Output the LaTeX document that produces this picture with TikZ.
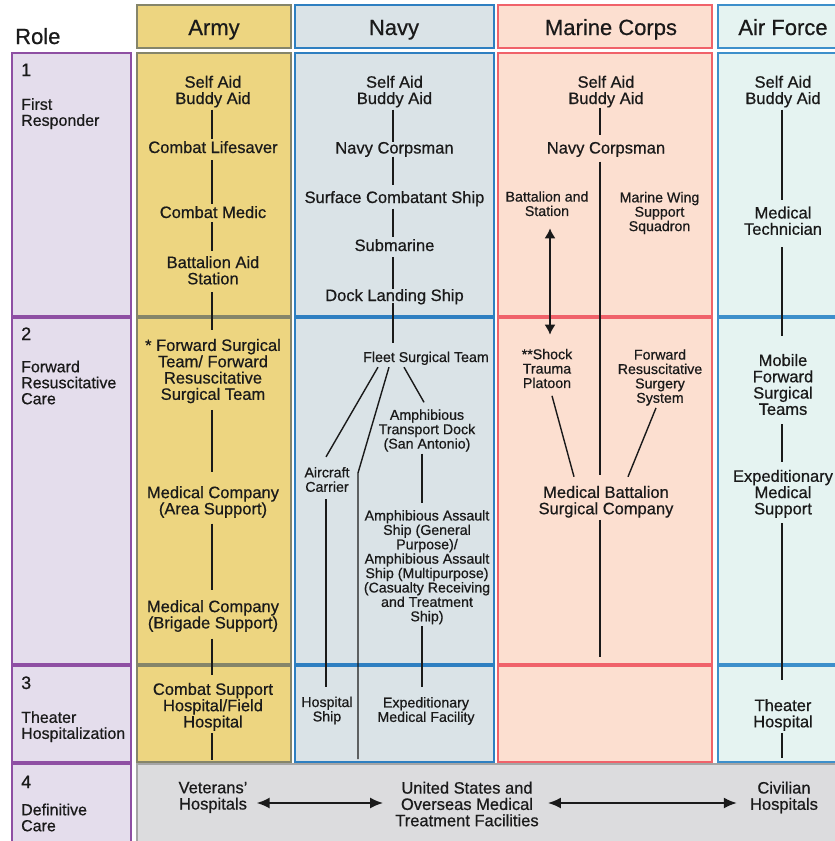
\documentclass[tikz,border=0pt]{standalone}
\usepackage{fontspec}
\setmainfont{Liberation Sans}[FakeBold=0.6]
\usetikzlibrary{arrows.meta}
\definecolor{rolefill}{HTML}{E4DDEC}
\definecolor{roledraw}{HTML}{8E4FA3}
\definecolor{armyfill}{HTML}{EDD580}
\definecolor{armydraw}{HTML}{85856A}
\definecolor{navyfill}{HTML}{DAE3E7}
\definecolor{navydraw}{HTML}{2E7FC1}
\definecolor{marfill}{HTML}{FCDFD0}
\definecolor{mardraw}{HTML}{F0626A}
\definecolor{affill}{HTML}{E5F3F1}
\definecolor{afdraw}{HTML}{3D8FCB}
\definecolor{deffill}{HTML}{DCDCDE}
\definecolor{defdraw}{HTML}{A5A5A5}
\definecolor{ink}{HTML}{1A1A1A}
\begin{document}
\begin{tikzpicture}[x=1pt,y=-1pt,
  txtbig/.style={font=\fontsize{16.5}{16.3}\selectfont, align=center, inner sep=2pt, text=ink},
  txtsmall/.style={font=\fontsize{14.2}{14.4}\selectfont, align=center, inner sep=2pt, text=ink},
  rlab/.style={font=\fontsize{16}{16}\selectfont, align=left, anchor=west, inner sep=0pt, text=ink},
  rnum/.style={font=\fontsize{18}{18}\selectfont, anchor=base west, inner sep=0pt, text=ink},
  hd/.style={font=\fontsize{22}{22}\selectfont, anchor=base, inner sep=0pt, text=ink},
  conn/.style={draw=ink, line width=1.4pt},
  arrA/.style={draw=ink, line width=2pt, {Latex[length=13pt,width=11pt]}-{Latex[length=13pt,width=11pt]}},
  arrB/.style={draw=ink, line width=1.5pt, {Latex[length=10pt,width=11pt]}-{Latex[length=10pt,width=11pt]}},
  cRole/.style={fill=rolefill, draw=roledraw, line width=1.3pt},
  cArmy/.style={fill=armyfill, draw=armydraw, line width=1.3pt},
  cNavy/.style={fill=navyfill, draw=navydraw, line width=1.3pt},
  cMar/.style={fill=marfill, draw=mardraw, line width=1.3pt},
  cAF/.style={fill=affill, draw=afdraw, line width=1.3pt},
  cDef/.style={fill=deffill, draw=defdraw, line width=1.6pt}
]
\useasboundingbox (0,0) rectangle (835,841);
\clip (0,0) rectangle (835,841);
\fill[white] (0,0) rectangle (835,841);

% ---- cells ----
\draw[cRole] (12,53) rectangle (131,316);
\draw[cRole] (12,318) rectangle (131,664);
\draw[cRole] (12,666) rectangle (131,762);
\draw[cRole] (12,764) rectangle (131,880);

\draw[cArmy] (137,5) rectangle (291,48);
\draw[cArmy] (137,53) rectangle (291,316);
\draw[cArmy] (137,318) rectangle (291,664);
\draw[cArmy] (137,666) rectangle (291,762);

\draw[cNavy] (295,5) rectangle (494,48);
\draw[cNavy] (295,53) rectangle (494,316);
\draw[cNavy] (295,318) rectangle (494,664);
\draw[cNavy] (295,666) rectangle (494,762);

\draw[cMar] (498,5) rectangle (712,48);
\draw[cMar] (498,53) rectangle (712,316);
\draw[cMar] (498,318) rectangle (712,664);
\draw[cMar] (498,666) rectangle (712,762);

\draw[cAF] (718,5) rectangle (880,48);
\draw[cAF] (718,53) rectangle (880,316);
\draw[cAF] (718,318) rectangle (880,664);
\draw[cAF] (718,666) rectangle (880,762);

\draw[cDef] (137,764) rectangle (880,880);

% ---- headers ----
\node[hd, anchor=base west] (role) at (15,44) {Role};
\node[hd] (hA) at (214,35) {Army};
\node[hd] (hN) at (394,35) {Navy};
\node[hd] (hM) at (611,35) {Marine Corps};
\node[hd] (hF) at (783,35) {Air Force};

% ---- role column ----
\node[rnum] (r1) at (21,76) {1};
\node[rnum] (r2) at (21,340) {2};
\node[rnum] (r3) at (21,689) {3};
\node[rnum] (r4) at (21,788) {4};
\node[rlab] (l1) at (21,113.7) {First\\Responder};
\node[rlab] (l2) at (21,382.5) {Forward\\Resuscitative\\Care};
\node[rlab] (l3) at (21,726.7) {Theater\\Hospitalization};
\node[rlab] (l4) at (21,817.5) {Definitive\\Care};

% ---- Army ----
\node[txtbig] (a1) at (213,91.6) {Self Aid\\Buddy Aid};
\node[txtbig, anchor=base] (a2) at (213,153) {Combat Lifesaver};
\node[txtbig, anchor=base] (a3) at (213,218) {Combat Medic};
\node[txtbig] (a4) at (213,270.3) {Battalion Aid\\Station};
\node[txtbig] (a5) at (213,371.1) {* Forward Surgical\\Team/ Forward\\Resuscitative\\Surgical Team};
\node[txtbig] (a6) at (213,502) {Medical Company\\(Area Support)};
\node[txtbig] (a7) at (213,616) {Medical Company\\(Brigade Support)};
\node[txtbig] (a8) at (213,706.9) {Combat Support\\Hospital/Field\\Hospital};
\coordinate (a9) at (212,760);

\draw[conn] ([xshift=-1pt]a1.south) -- ([xshift=-1pt]a2.north);
\draw[conn, shorten <=5pt] ([xshift=-1pt]a2.south) -- ([xshift=-1pt]a3.north);
\draw[conn, shorten <=2pt, shorten >=3pt] ([xshift=-1pt]a3.south) -- ([xshift=-1pt]a4.north);
\draw[conn, shorten <=5.4pt, shorten >=6.7pt] ([xshift=-1pt]a4.south) -- ([xshift=-1pt]a5.north);
\draw[conn, shorten <=4.5pt, shorten >=12pt] ([xshift=-1pt]a5.south) -- ([xshift=-1pt]a6.north);
\draw[conn, shorten <=3.5pt, shorten >=8.3pt] ([xshift=-1pt]a6.south) -- ([xshift=-1pt]a7.north);
\draw[conn, shorten <=4.5pt, shorten >=6pt] ([xshift=-1pt]a7.south) -- ([xshift=-1pt]a8.north);
\draw[conn] ([xshift=-1pt]a8.south) -- (a9);

% ---- Navy ----
\node[txtbig] (n1) at (394.5,91.6) {Self Aid\\Buddy Aid};
\node[txtbig, anchor=base] (n2) at (394.5,153.5) {Navy Corpsman};
\node[txtbig, anchor=base] (n3) at (394.5,203) {Surface Combatant Ship};
\node[txtbig, anchor=base] (n4) at (394.5,251) {Submarine};
\node[txtbig, anchor=base] (n5) at (394.5,301) {Dock Landing Ship};
\node[txtsmall, anchor=base] (n6) at (426,362) {Fleet Surgical Team};
\node[txtsmall] (n7) at (427,430.5) {Amphibious\\Transport Dock\\(San Antonio)};
\node[txtsmall] (n8) at (427,567.2) {Amphibious Assault\\Ship (General\\Purpose)/\\Amphibious Assault\\Ship (Multipurpose)\\(Casualty Receiving\\and Treatment\\Ship)};
\node[txtsmall] (n9) at (327,479.5) {Aircraft\\Carrier};
\node[txtsmall] (n10) at (327,710.5) {Hospital\\Ship};
\node[txtsmall] (n11) at (426,711) {Expeditionary\\Medical Facility};
\coordinate (nb) at (358,473);
\coordinate (ne) at (358,759);

\draw[conn, shorten >=-2pt] ([xshift=-1.5pt]n1.south) -- ([xshift=-1.5pt]n2.north);
\draw[conn, shorten <=-2.5pt, shorten >=4pt] ([xshift=-1.5pt]n2.south) -- ([xshift=-1.5pt]n3.north);
\draw[conn] ([xshift=-1.5pt]n3.south) -- ([xshift=-1.5pt]n4.north);
\draw[conn, shorten <=4pt, shorten >=-2pt] ([xshift=-1.5pt]n4.south) -- ([xshift=-1.5pt]n5.north);
\draw[conn, shorten <=-3.5pt, shorten >=6.7pt] ([xshift=-1.5pt]n5.south) -- ([xshift=-1.5pt]n5.south |- n6.north);
\draw[conn] ([xshift=-48pt]n6.south) -- ([xshift=-1pt,yshift=8pt]n9.north);
\draw[conn] ([xshift=-37pt]n6.south) -- (nb) -- (ne);
\draw[conn] ([xshift=-22pt]n6.south) -- ([xshift=-3pt,yshift=5pt]n7.north);
\draw[conn, shorten >=5pt] ([xshift=-5pt]n7.south) -- ([xshift=-5pt]n8.north);
\draw[conn, shorten >=8pt] ([xshift=-5pt]n8.south) -- ([xshift=-4pt]n11.north);
\draw[conn, shorten <=5pt, shorten >=7pt] ([xshift=-1pt]n9.south) -- ([xshift=-1pt]n10.north);

% ---- Marine Corps ----
\node[txtbig] (m1) at (606,91.6) {Self Aid\\Buddy Aid};
\node[txtbig, anchor=base] (m2) at (606,153.5) {Navy Corpsman};
\node[txtsmall] (m3) at (547,203.7) {Battalion and\\Station};
\node[txtsmall] (m4) at (659.5,213) {Marine Wing\\Support\\Squadron};
\node[txtsmall] (m5) at (547,368.5) {**Shock\\Trauma\\Platoon};
\node[txtsmall] (m6) at (660,377.5) {Forward\\Resuscitative\\Surgery\\System};
\node[txtbig] (m7) at (606,501.8) {Medical Battalion\\Surgical Company};
\coordinate (m8) at (600,657);

\draw[conn, shorten <=-2pt, shorten >=5pt] ([xshift=-6pt]m1.south) -- ([xshift=-6pt]m2.north);
\draw[conn, shorten <=2.5pt, shorten >=9pt] ([xshift=-6pt]m2.south) -- ([xshift=-6pt]m7.north);
\draw[arrB, shorten <=10pt, shorten >=12pt] ([xshift=3pt]m3.south) -- ([xshift=3pt]m5.north);
\draw[conn] ([xshift=5pt,yshift=-5.5pt]m5.south) -- ([xshift=-32pt,yshift=7pt]m7.north);
\draw[conn] ([xshift=-4pt]m6.south) -- ([xshift=22pt,yshift=7pt]m7.north);
\draw[conn] ([xshift=-6pt]m7.south) -- (m8);

% ---- Air Force ----
\node[txtbig] (f1) at (783,91.6) {Self Aid\\Buddy Aid};
\node[txtbig] (f2) at (783,220.7) {Medical\\Technician};
\node[txtbig] (f3) at (783,384.5) {Mobile\\Forward\\Surgical\\Teams};
\node[txtbig] (f4) at (783,493.8) {Expeditionary\\Medical\\Support};
\node[txtbig] (f5) at (783,714.9) {Theater\\Hospital};
\coordinate (f6) at (782,758);

\draw[conn, shorten >=4.3pt] ([xshift=-1pt]f1.south) -- ([xshift=-1pt]f2.north);
\draw[conn, shorten <=10pt, shorten >=16pt] ([xshift=-1pt]f2.south) -- ([xshift=-1pt]f3.north);
\draw[conn, shorten <=7pt, shorten >=5.4pt] ([xshift=-1pt]f3.south) -- ([xshift=-1pt]f4.north);
\draw[conn, shorten <=3.5pt, shorten >=17pt] ([xshift=-1pt]f4.south) -- ([xshift=-1pt]f5.north);
\draw[conn] ([xshift=-1pt]f5.south) -- (f6);

% ---- Definitive care ----
\node[txtbig] (d1) at (213,797.4) {Veterans’\\Hospitals};
\node[txtbig] (d2) at (467,804) {United States and\\Overseas Medical\\Treatment Facilities};
\node[txtbig] (d3) at (784,797.4) {Civilian\\Hospitals};
\coordinate (dy) at ([yshift=-5.6pt]d1.east);
\draw[arrA, shorten <=7pt, shorten >=10pt] (dy) -- (dy -| d2.west);
\draw[arrA, shorten <=7pt, shorten >=11pt] (dy -| d2.east) -- (dy -| d3.west);
\end{tikzpicture}
\end{document}
